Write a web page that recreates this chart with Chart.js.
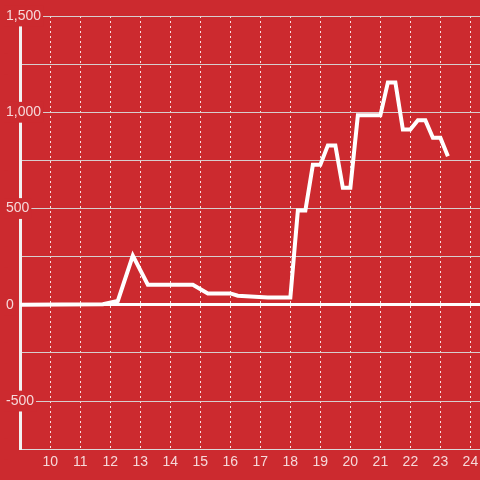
<!DOCTYPE html>
<html>
<head>
<meta charset="utf-8">
<script src="https://cdn.jsdelivr.net/npm/chart.js@4"></script>
<style>
  html, body { margin: 0; padding: 0; background: #cc2a2f; }
  #wrap { width: 480px; height: 480px; position: relative; }
</style>
</head>
<body>
<div id="wrap"><canvas id="chart1"></canvas></div>
<script>
// hora del dia (decimal) y valor
const horas = [9, 11.75, 12.25, 12.75, 13.25, 14.75, 15.25, 16, 16.25, 17.25, 18, 18.25, 18.5, 18.75, 19, 19.25, 19.5, 19.75, 20, 20.25, 21, 21.25, 21.5, 21.75, 22, 22.25, 22.5, 22.75, 23, 23.25];
const valores = [0, 3, 20, 255, 104, 104, 59, 59, 47, 38, 38, 490, 490, 727, 727, 828, 828, 608, 608, 984, 984, 1155, 1155, 910, 910, 958, 958, 868, 868, 771];
const yTicks = [-750, -500, -250, 0, 250, 500, 750, 1000, 1250, 1500];
const xTicks = [10, 11, 12, 13, 14, 15, 16, 17, 18, 19, 20, 21, 22, 23, 24];

const fondo = "#cc2a2f";
const textoColor = "rgba(255,255,255,0.82)";

const puntos = horas.map((h, i) => ({ x: h, y: valores[i] }));

const chart1 = document.getElementById("chart1");
const myChart1 = new Chart(chart1, {
  type: "line",
  data: {
    datasets: [
      {
        data: puntos,
        borderColor: "#ffffff",
        borderWidth: 4,
        pointRadius: 0,
        tension: 0,
        fill: false,
      },
    ],
  },
  options: {
    responsive: true,
    maintainAspectRatio: false,
    animation: false,
    layout: { padding: { left: 5, top: 16, right: 0, bottom: 4 } },
    plugins: { legend: { display: false }, tooltip: { enabled: false } },
    scales: {
      x: {
        type: "linear",
        min: 8.99,
        max: 24.32,
        afterBuildTicks: (axis) => {
          axis.ticks = xTicks.map((v) => ({ value: v }));
        },
        afterFit: (axis) => {
          axis.paddingLeft = 0;
          axis.paddingRight = 0;
        },
        grid: { color: "rgba(255,255,255,0.85)", lineWidth: 1, drawTicks: false },
        border: { color: "rgba(220,220,220,0.9)", width: 1, dash: [2, 3] },
        ticks: {
          color: textoColor,
          padding: 5,
          maxRotation: 0,
          font: { family: "Liberation Sans", size: 14 },
        },
      },
      y: {
        min: -750,
        max: 1500,
        afterBuildTicks: (axis) => {
          axis.ticks = yTicks.map((v) => ({ value: v }));
        },
        afterFit: (axis) => {
          axis.width = 15;
        },
        grid: {
          color: (ctx) => (ctx.tick && ctx.tick.value === 0 ? "#ffffff" : "rgba(215,215,215,0.95)"),
          lineWidth: (ctx) => (ctx.tick && ctx.tick.value === 0 ? 3 : 1),
          drawTicks: false,
        },
        border: { color: "#f2f2f2", width: 3 },
        ticks: {
          color: textoColor,
          mirror: true,
          padding: -14,
          showLabelBackdrop: true,
          backdropColor: fondo,
          backdropPadding: 2,
          font: { family: "Liberation Sans", size: 14 },
          callback: (v) => (v % 500 === 0 ? v.toLocaleString("en-US") : ""),
        },
      },
    },
  },
});
</script>
</body>
</html>
